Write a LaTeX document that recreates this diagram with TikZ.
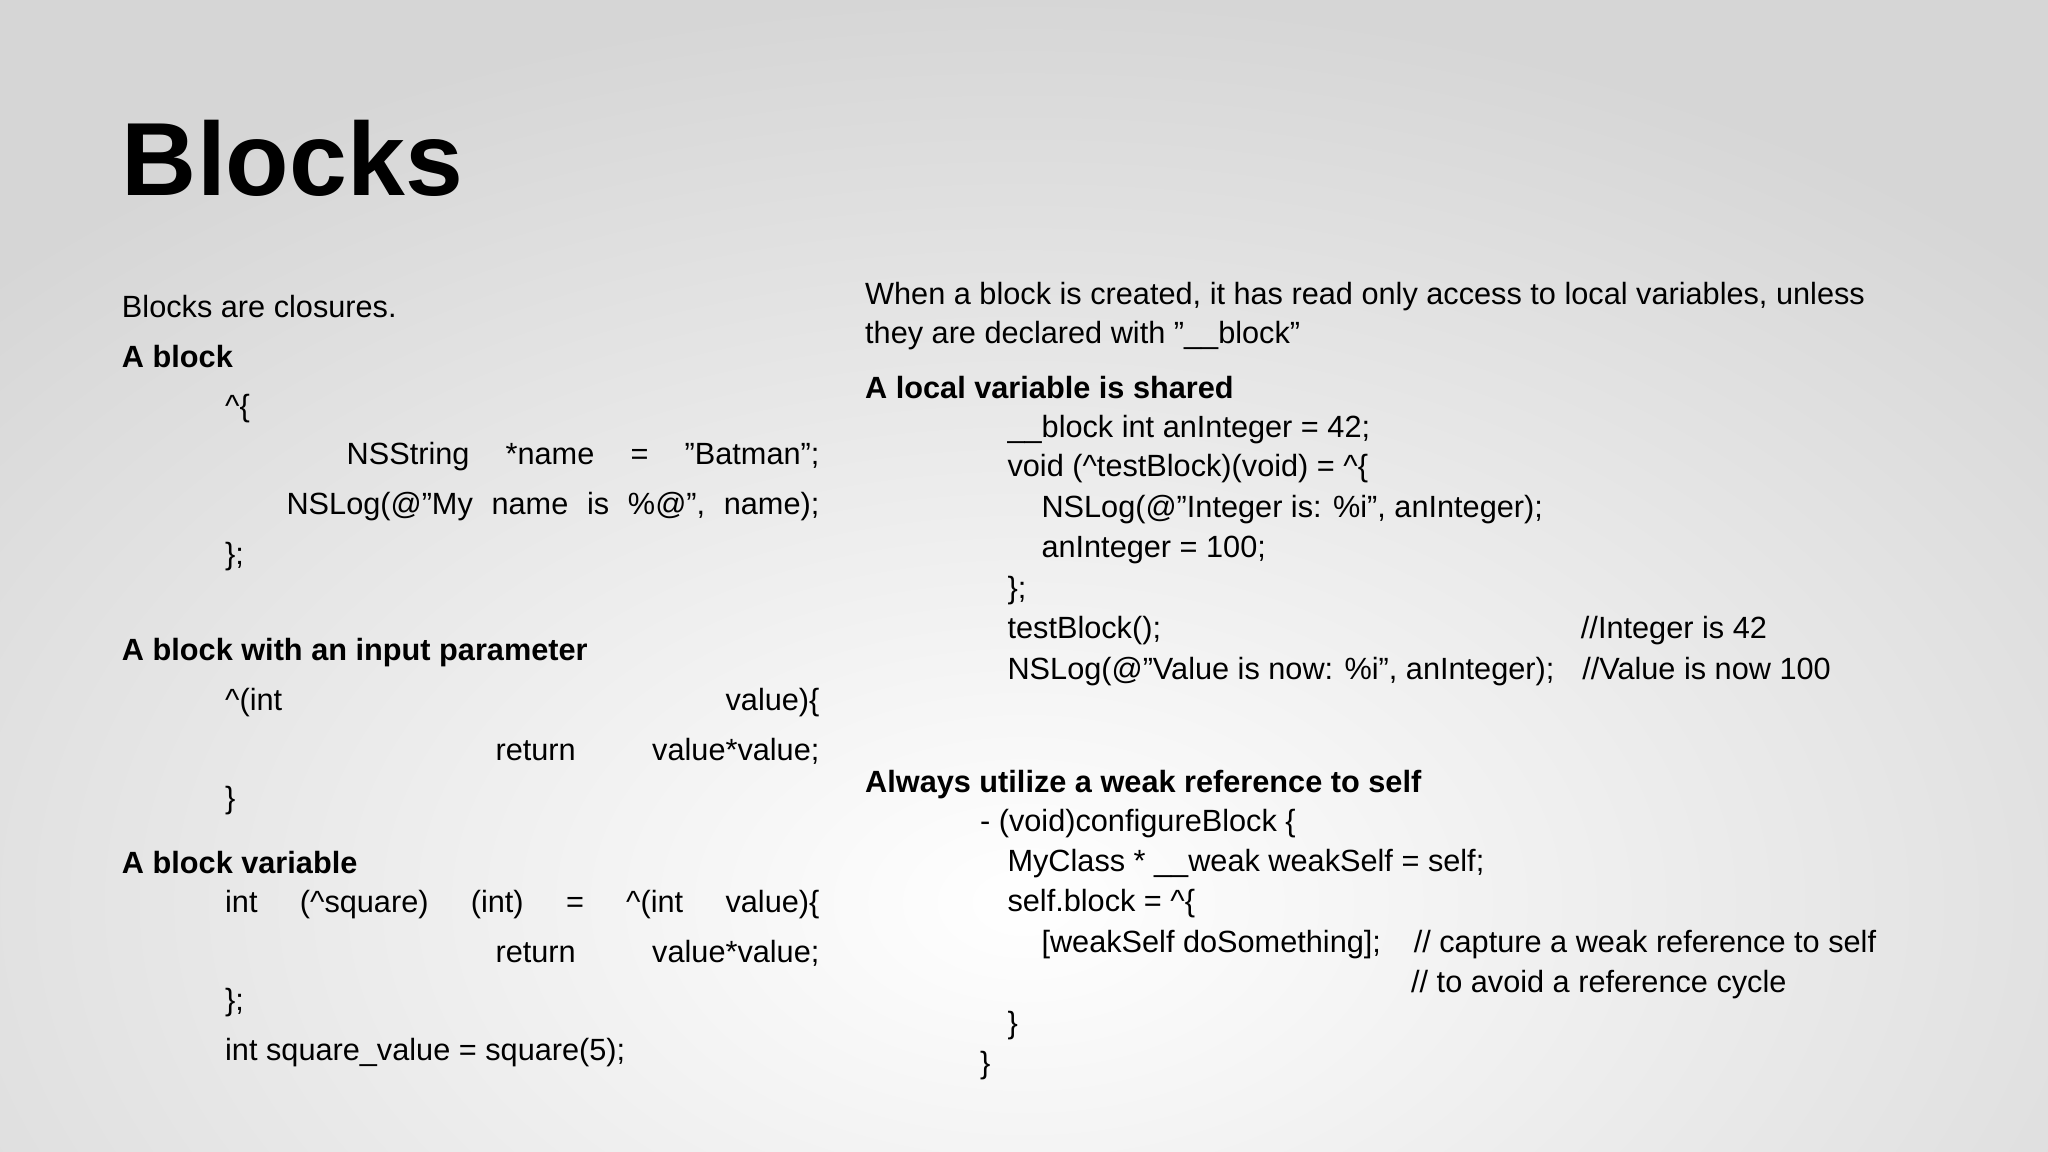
\documentclass[tikz,border=0pt]{standalone}
\usepackage{fontspec}
\setmainfont{Liberation Sans}
\newcommand\dq{\symbol{"22}}
\begin{document}
\begin{tikzpicture}[x=0.5pt,y=0.5pt,
  t/.style={anchor=base west,inner sep=0pt,font=\fontsize{11.75}{13}\selectfont},
  b/.style={t,font=\fontsize{11.75}{13}\selectfont\bfseries}]
\useasboundingbox (0,0) rectangle (1568,882);
\shade[inner color=white,outer color=black!16] (-300,-500) rectangle (1868,882);
% left column
\node[anchor=base west,inner sep=0pt,font=\fontsize{39.8}{42}\selectfont\bfseries] (title) at (93,882-150) {Blocks};
\node[t] (l1) at (93,882-243) {Blocks are closures.};
\node[b] (l2) at (93,882-281) {A block};
\node[t] (l3) at (172,882-319) {\textasciicircum\{};
\node[t] (l4) at (265,882-356) {\hbox to 181pt{NSString\hfill*name\hfill=\hfill\dq Batman\dq;}};
\node[t] (l5) at (219,882-394) {\hbox to 204pt{NSLog(@\dq My\hfill name\hfill is\hfill \%@\dq,\hfill name);}};
\node[t] (l6) at (172,882-432) {\};};
\node[b] (l7) at (93,882-506) {A block with an input parameter};
\node[t] (l8) at (172,882-544) {\hbox to 227.5pt{\textasciicircum(int\hfill value)\{}};
\node[t] (l9) at (379,882-582) {\hbox to 124pt{return\hfill value*value;}};
\node[t] (l10) at (172,882-619) {\}};
\node[b] (l11) at (93,882-669) {A block variable};
\node[t] (l12) at (172,882-699) {\hbox to 227.5pt{int\hfill(\textasciicircum square)\hfill(int)\hfill=\hfill\textasciicircum(int\hfill value)\{}};
\node[t] (l13) at (379,882-737) {\hbox to 124pt{return\hfill value*value;}};
\node[t] (l14) at (172,882-774) {\};};
\node[t] (l15) at (172,882-812) {int square\_value = square(5);};
% right column
\node[t] (r1) at (662,882-233) {When a block is created, it has read only access to local variables, unless};
\node[t] (r2) at (662,882-263) {they are declared with \dq\_\_block\dq};
\node[b] (r3) at (662,882-305) {A local variable is shared};
\node[t] (r4) at (771,882-335) {\_\_block int anInteger = 42;};
\node[t] (r5) at (771,882-365) {void (\textasciicircum testBlock)(void) = \textasciicircum\{};
\node[t] (r6) at (797,882-396) {NSLog(@\dq Integer is: \%i\dq, anInteger);};
\node[t] (r7) at (797,882-427) {anInteger = 100;};
\node[t] (r8) at (771,882-458) {\};};
\node[t] (r9) at (771,882-489) {testBlock();};
\node[t] (r9c) at (1210,882-489) {//Integer is 42};
\node[t] (r10) at (771,882-520) {NSLog(@\dq Value is now: \%i\dq, anInteger);};
\node[t] (r10c) at (1211,882-520) {//Value is now 100};
\node[b] (r11) at (662,882-607) {Always utilize a weak reference to self};
\node[t] (r12) at (750,882-637) {- (void)configureBlock \{};
\node[t] (r13) at (771,882-667) {MyClass * \_\_weak weakSelf = self;};
\node[t] (r14) at (771,882-698) {self.block = \textasciicircum\{};
\node[t] (r15) at (797,882-729) {[weakSelf doSomething];};
\node[t] (r15c) at (1082,882-729) {// capture a weak reference to self};
\node[t] (r16) at (1080,882-760) {// to avoid a reference cycle};
\node[t] (r17) at (771,882-791) {\}};
\node[t] (r18) at (750,882-822) {\}};
\end{tikzpicture}
\end{document}
